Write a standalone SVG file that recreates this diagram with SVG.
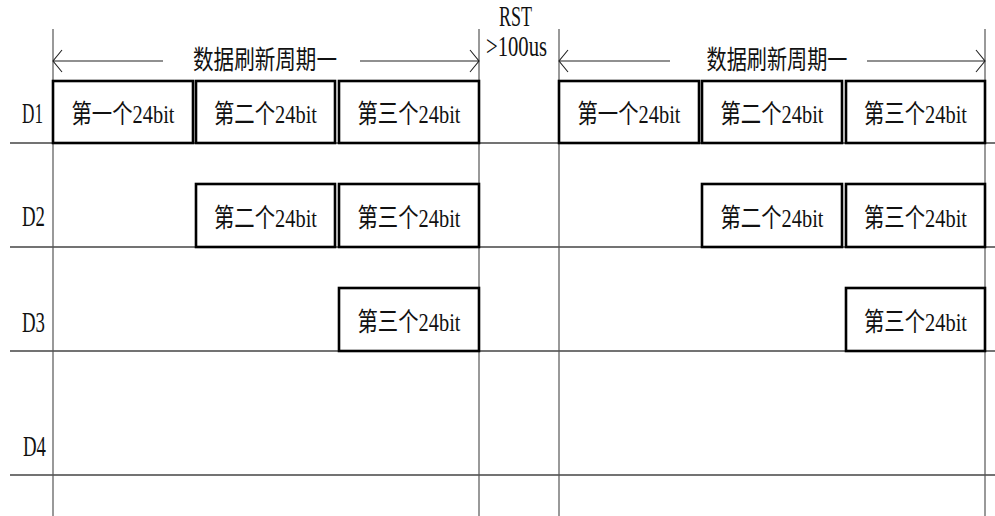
<svg xmlns="http://www.w3.org/2000/svg" width="995" height="516" viewBox="0 0 995 516">
<style>
.grid{stroke:#444;stroke-width:1.4;fill:none}
.vgrid{stroke:#555;stroke-width:1.2;fill:none}
.box{fill:#fff;stroke:#000;stroke-width:2.6}
.arr{stroke:#222;stroke-width:1.1;fill:none}
.bt{font-family:"Liberation Serif","Noto Sans CJK SC",serif;font-size:26px;fill:#111;text-anchor:middle}
.lbl{font-family:"Liberation Serif",serif;font-size:30px;fill:#111}
</style>
<rect width="995" height="516" fill="#fff"/>
<g id="grid">
<line class="grid" x1="10" y1="143" x2="995" y2="143"/>
<line class="grid" x1="10" y1="247" x2="995" y2="247"/>
<line class="grid" x1="10" y1="351" x2="995" y2="351"/>
<line class="grid" x1="10" y1="475" x2="995" y2="475"/>
<line class="vgrid" x1="53" y1="29" x2="53" y2="516"/>
<line class="vgrid" x1="479" y1="29" x2="479" y2="516"/>
<line class="vgrid" x1="559" y1="29" x2="559" y2="516"/>
<line class="vgrid" x1="985" y1="29" x2="985" y2="516"/>
</g>
<g id="connectors">
<path class="arr" d="M53,61 H163 M62,50 L53,61 L62,72"/>
<path class="arr" d="M360,61 H479 M470,50 L479,61 L470,72"/>
<path class="arr" d="M559,61 H670 M568,50 L559,61 L568,72"/>
<path class="arr" d="M867,61 H985 M976,50 L985,61 L976,72"/>
</g>
<g id="labels">
<text class="lbl" x="22" y="123" textLength="21" lengthAdjust="spacingAndGlyphs">D1</text>
<text class="lbl" x="22" y="226" textLength="23" lengthAdjust="spacingAndGlyphs">D2</text>
<text class="lbl" x="22" y="332" textLength="23" lengthAdjust="spacingAndGlyphs">D3</text>
<text class="lbl" x="23" y="456" textLength="23" lengthAdjust="spacingAndGlyphs">D4</text>
<text class="lbl" x="499" y="26" font-size="22" textLength="33" lengthAdjust="spacingAndGlyphs">RST</text>
<text class="lbl" x="486" y="56" font-size="26" textLength="61" lengthAdjust="spacingAndGlyphs">&gt;100us</text>
<text class="bt" x="265" y="69" font-size="28" textLength="144" lengthAdjust="spacingAndGlyphs">数据刷新周期一</text>
<text class="bt" x="777" y="69" font-size="28" textLength="141" lengthAdjust="spacingAndGlyphs">数据刷新周期一</text>
</g>
<g id="p1-d1-b1"><rect class="box" x="53" y="81" width="140" height="62"/><text class="bt" x="123" y="123" textLength="103" lengthAdjust="spacingAndGlyphs">第一个24bit</text></g>
<g id="p1-d1-b2"><rect class="box" x="196" y="81" width="139" height="62"/><text class="bt" x="265.5" y="123" textLength="103" lengthAdjust="spacingAndGlyphs">第二个24bit</text></g>
<g id="p1-d1-b3"><rect class="box" x="339" y="81" width="140" height="62"/><text class="bt" x="409" y="123" textLength="103" lengthAdjust="spacingAndGlyphs">第三个24bit</text></g>
<g id="p1-d2-b2"><rect class="box" x="196" y="184" width="139" height="63"/><text class="bt" x="265.5" y="227" textLength="103" lengthAdjust="spacingAndGlyphs">第二个24bit</text></g>
<g id="p1-d2-b3"><rect class="box" x="339" y="184" width="140" height="63"/><text class="bt" x="409" y="227" textLength="103" lengthAdjust="spacingAndGlyphs">第三个24bit</text></g>
<g id="p1-d3-b3"><rect class="box" x="339" y="288" width="140" height="63"/><text class="bt" x="409" y="331" textLength="103" lengthAdjust="spacingAndGlyphs">第三个24bit</text></g>
<g id="p2-d1-b1"><rect class="box" x="559" y="81" width="140" height="62"/><text class="bt" x="629" y="123" textLength="103" lengthAdjust="spacingAndGlyphs">第一个24bit</text></g>
<g id="p2-d1-b2"><rect class="box" x="702" y="81" width="140" height="62"/><text class="bt" x="772" y="123" textLength="103" lengthAdjust="spacingAndGlyphs">第二个24bit</text></g>
<g id="p2-d1-b3"><rect class="box" x="846" y="81" width="139" height="62"/><text class="bt" x="915.5" y="123" textLength="103" lengthAdjust="spacingAndGlyphs">第三个24bit</text></g>
<g id="p2-d2-b2"><rect class="box" x="702" y="184" width="140" height="63"/><text class="bt" x="772" y="227" textLength="103" lengthAdjust="spacingAndGlyphs">第二个24bit</text></g>
<g id="p2-d2-b3"><rect class="box" x="846" y="184" width="139" height="63"/><text class="bt" x="915.5" y="227" textLength="103" lengthAdjust="spacingAndGlyphs">第三个24bit</text></g>
<g id="p2-d3-b3"><rect class="box" x="846" y="288" width="139" height="63"/><text class="bt" x="915.5" y="331" textLength="103" lengthAdjust="spacingAndGlyphs">第三个24bit</text></g>
</svg>
